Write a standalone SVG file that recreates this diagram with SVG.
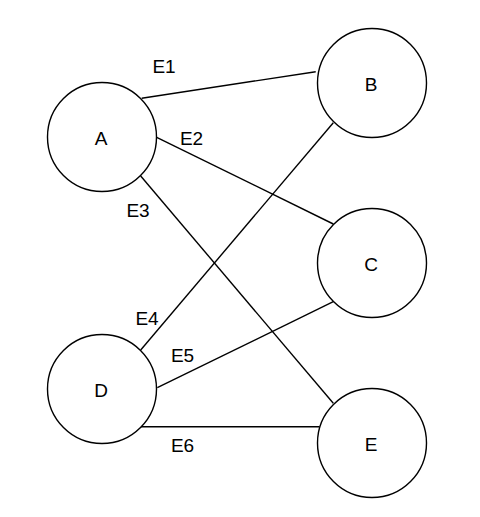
<svg xmlns="http://www.w3.org/2000/svg" width="480" height="517" viewBox="0 0 480 517">
<style>
.node{fill:#ffffff;stroke:#000000;stroke-width:1.4}
.edge{fill:none;stroke:#000000;stroke-width:1.4}
text{font-family:"Liberation Sans",Arial,Helvetica,sans-serif;font-size:19px;fill:#000000;text-anchor:middle}
</style>
<rect width="480" height="517" fill="#ffffff"/>
<g id="connectors">
<g id="E1"><path class="edge" d="M141.7 98.3 L315.7 71.7"/><text x="164" y="73">E1</text></g>
<g id="E2"><path class="edge" d="M156.7 137.3 L333.3 224"/><text x="191.5" y="145">E2</text></g>
<g id="E3"><path class="edge" d="M140.7 176 L333.3 403.3"/><text x="138" y="216.5">E3</text></g>
<g id="E4"><path class="edge" d="M140.7 350 L333.3 122.7"/><text x="147" y="325">E4</text></g>
<g id="E5"><path class="edge" d="M157.3 387.7 L333.3 301.7"/><text x="182.5" y="361.5">E5</text></g>
<g id="E6"><path class="edge" d="M140.7 426.7 L319.5 426.7"/><text x="182.5" y="451.5">E6</text></g>
</g>
<g id="A"><circle class="node" cx="102" cy="137" r="54.5"/><text x="101" y="145">A</text></g>
<g id="B"><circle class="node" cx="372" cy="83" r="54.5"/><text x="371" y="90.5">B</text></g>
<g id="C"><circle class="node" cx="372" cy="263" r="54.5"/><text x="371" y="270.5">C</text></g>
<g id="D"><circle class="node" cx="102" cy="389" r="54.5"/><text x="101" y="396.5">D</text></g>
<g id="E"><circle class="node" cx="372" cy="443" r="54.5"/><text x="371" y="450.5">E</text></g>
</svg>
